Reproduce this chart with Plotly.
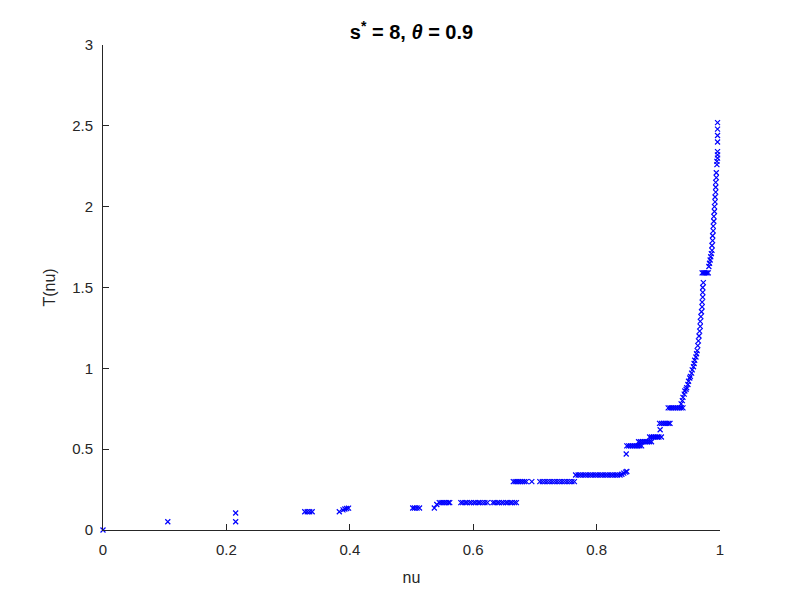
import plotly.graph_objects as go

# nu values, grouped by visible cluster
nu = [
    0.000, 0.105, 0.215, 0.215,
    0.327, 0.331, 0.335, 0.339,
    0.383, 0.389, 0.392, 0.395, 0.398,
    0.502, 0.505, 0.509, 0.513, 0.537, 0.541,
    0.545, 0.548, 0.551, 0.554, 0.557, 0.560, 0.562,
    0.580, 0.583, 0.587, 0.590, 0.594, 0.597, 0.601, 0.604, 0.608, 0.611, 0.615, 0.619,
    0.623,
    0.632, 0.635, 0.639, 0.642, 0.646, 0.649, 0.653, 0.656, 0.660, 0.663, 0.667, 0.670,
    0.665, 0.668, 0.671, 0.674, 0.677, 0.680, 0.683, 0.686, 0.695,
    0.708, 0.712, 0.716, 0.720, 0.724, 0.728, 0.732, 0.736, 0.740, 0.744, 0.748, 0.752, 0.756, 0.760, 0.764,
    0.766, 0.770, 0.774, 0.778, 0.782, 0.786, 0.790, 0.794, 0.798, 0.802, 0.806, 0.810, 0.814, 0.818,
    0.822, 0.826, 0.830, 0.834, 0.838,
    0.841, 0.844, 0.847, 0.849,
    0.848,
    0.849, 0.852, 0.855, 0.858, 0.861, 0.864, 0.867, 0.870, 0.873,
    0.868, 0.871, 0.874, 0.877, 0.880, 0.883, 0.886, 0.889,
    0.886, 0.889, 0.892, 0.895, 0.898, 0.901, 0.905,
    0.903,
    0.902, 0.905, 0.908, 0.911, 0.914, 0.917, 0.919,
    0.916, 0.919, 0.922, 0.925, 0.928, 0.931, 0.934, 0.937, 0.940,
    0.937, 0.939, 0.940, 0.942, 0.943, 0.945, 0.946, 0.948, 0.949, 0.951, 0.952, 0.954, 0.955,
    0.957, 0.958, 0.959, 0.961, 0.962, 0.963, 0.964, 0.965, 0.966, 0.967, 0.968, 0.968, 0.969,
    0.970, 0.971, 0.971, 0.972, 0.972, 0.972, 0.973,
    0.971, 0.973, 0.975, 0.977, 0.979, 0.981,
    0.982, 0.983, 0.984, 0.985, 0.986, 0.987, 0.987, 0.988, 0.988, 0.989, 0.989, 0.990, 0.990,
    0.991, 0.991, 0.992, 0.992, 0.993, 0.993, 0.993, 0.994, 0.994,
    0.995, 0.995, 0.996, 0.996, 0.996, 0.996, 0.996, 0.996, 0.996,
]

T = [
    0.000, 0.051, 0.105, 0.051,
    0.113, 0.113, 0.113, 0.113,
    0.113, 0.124, 0.130, 0.133, 0.135,
    0.136, 0.136, 0.136, 0.136, 0.136, 0.158,
    0.169, 0.169, 0.169, 0.169, 0.169, 0.169, 0.169,
    0.169, 0.169, 0.169, 0.169, 0.169, 0.169, 0.169, 0.169, 0.169, 0.169, 0.169, 0.169,
    0.169,
    0.169, 0.169, 0.169, 0.169, 0.169, 0.169, 0.169, 0.169, 0.169, 0.169, 0.169, 0.169,
    0.299, 0.299, 0.299, 0.299, 0.299, 0.299, 0.299, 0.299, 0.299,
    0.299, 0.299, 0.299, 0.299, 0.299, 0.299, 0.299, 0.299, 0.299, 0.299, 0.299, 0.299, 0.299, 0.299, 0.299,
    0.340, 0.340, 0.340, 0.340, 0.340, 0.340, 0.340, 0.340, 0.340, 0.340, 0.340, 0.340, 0.340, 0.340,
    0.340, 0.340, 0.340, 0.340, 0.340,
    0.345, 0.352, 0.358, 0.362,
    0.470,
    0.520, 0.520, 0.520, 0.520, 0.520, 0.520, 0.520, 0.520, 0.520,
    0.546, 0.546, 0.546, 0.546, 0.546, 0.546, 0.546, 0.546,
    0.575, 0.575, 0.575, 0.575, 0.575, 0.575, 0.575,
    0.620,
    0.660, 0.660, 0.660, 0.660, 0.660, 0.660, 0.660,
    0.755, 0.755, 0.755, 0.755, 0.755, 0.755, 0.755, 0.755, 0.755,
    0.780, 0.800, 0.820, 0.840, 0.860, 0.870, 0.880, 0.900, 0.920, 0.940, 0.950, 0.970, 0.990,
    1.010, 1.030, 1.050, 1.070, 1.090, 1.110, 1.140, 1.170, 1.200, 1.230, 1.260, 1.290, 1.320,
    1.350, 1.380, 1.410, 1.440, 1.470, 1.500, 1.530,
    1.590, 1.590, 1.590, 1.590, 1.590, 1.590,
    1.630, 1.650, 1.670, 1.690, 1.710, 1.730, 1.760, 1.790, 1.820, 1.850, 1.880, 1.910, 1.940,
    1.970, 2.000, 2.030, 2.060, 2.090, 2.120, 2.150, 2.180, 2.210,
    2.260, 2.280, 2.300, 2.320, 2.340, 2.400, 2.440, 2.480, 2.520,
]

x_ticks = [0, 0.2, 0.4, 0.6, 0.8, 1]
x_labels = ["0", "0.2", "0.4", "0.6", "0.8", "1"]
y_ticks = [0, 0.5, 1, 1.5, 2, 2.5, 3]
y_labels = ["0", "0.5", "1", "1.5", "2", "2.5", "3"]

axis_color = "#262626"
font_family = "Liberation Sans, Arial, sans-serif"

fig = go.Figure()

fig.add_trace(go.Scatter(
    x=nu, y=T, mode="markers",
    marker=dict(symbol="x-thin", size=5, color="#0000ff",
                line=dict(color="#0000ff", width=1.2)),
    cliponaxis=False,
    showlegend=False,
))

# the page adds ~8px of body margin, so the margins are pulled in to compensate
fig.update_layout(
    width=793, height=595,
    plot_bgcolor="white", paper_bgcolor="white",
    margin=dict(l=95, r=81, t=37, b=73),
    font=dict(family=font_family, size=15, color=axis_color),
    title=dict(
        text="<b>s<sup>*</sup> = 8, <i>θ</i> = 0.9</b>",
        x=0.5, xref="paper", xanchor="center",
        y=1 - 24 / 595, yref="container", yanchor="middle",
        font=dict(family=font_family, size=20, color="black"),
    ),
)

fig.update_xaxes(
    range=[0, 1], tickvals=x_ticks, ticktext=x_labels,
    showline=True, linecolor=axis_color, linewidth=1,
    ticks="inside", ticklen=6, tickcolor=axis_color,
    ticklabelstandoff=6,
    showgrid=False, zeroline=False,
    title=dict(text="nu", font=dict(size=16), standoff=14),
)
fig.update_yaxes(
    range=[0, 3], tickvals=y_ticks, ticktext=y_labels,
    showline=True, linecolor=axis_color, linewidth=1,
    ticks="inside", ticklen=6, tickcolor=axis_color,
    ticklabelstandoff=6,
    showgrid=False, zeroline=False,
    title=dict(text="T(nu)", font=dict(size=16), standoff=12),
)

fig.write_html("out.html")
